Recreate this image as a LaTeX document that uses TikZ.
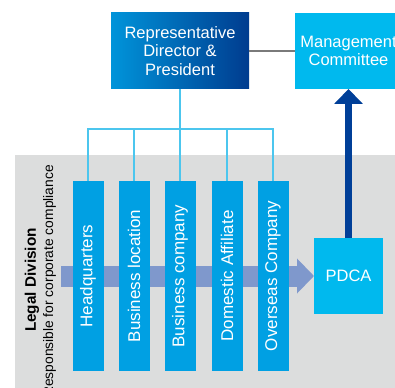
\documentclass[tikz,border=0pt]{standalone}
\usepackage{fontspec}
\setmainfont{Liberation Sans}
\usetikzlibrary{arrows.meta}

\definecolor{presleft}{HTML}{0094DA}
\definecolor{presright}{HTML}{003C8F}
\definecolor{skyblue}{HTML}{00B9EE}
\definecolor{unitblue}{HTML}{00A0E3}
\definecolor{tieblue}{HTML}{4CC6EE}
\definecolor{bggray}{HTML}{DCDDDD}
\definecolor{bandblue}{HTML}{7F98CC}
\definecolor{navy}{HTML}{003F98}
\definecolor{linkgray}{HTML}{7A7A7A}

\begin{document}
\begin{tikzpicture}[x=1pt, y=-1pt,
	box/.style={text=white, inner sep=0pt, outer sep=0pt, align=center, minimum height=76pt, font=\fontsize{16.5}{18.5}\selectfont},
	unit/.style={fill=unitblue, text=white, minimum width=31pt, minimum height=190pt, inner sep=0pt, outer sep=0pt, font=\fontsize{17}{20}\selectfont},
	tie/.style={draw=tieblue, line width=1.5pt}]
	\useasboundingbox (0,0) rectangle (395,387);
	\fill[bggray] (15,155) rectangle (400,390);
	
	\node[box, minimum width=138pt, left color=presleft, right color=presright] (pres) at (180,51) {Representative\\Director \&\\President};
	\node[box, minimum width=107pt, fill=skyblue] (mgmt) at (348.5,51) {Management\\Committee};
	\node[box, minimum width=69pt, fill=skyblue] (pdca) at (348.5,276) {PDCA};
	
	\draw[linkgray, line width=2.5pt] (pres.east) -- (mgmt.west);
	\draw[navy, line width=7pt, -{Triangle[width=28pt, length=15pt]}] (pdca.north) -- (mgmt.south);
	
	% band behind the units
	\coordinate (band) at (61,276);
	\draw[bandblue, line width=21pt, -{Triangle[width=34pt, length=17pt]}] (band) -- (pdca.west);
	
	\foreach \name/\x/\txt in {hq/88/Headquarters, loc/134/Business location, comp/180/Business company, dom/227/Domestic Affiliate, ovs/273/Overseas Company}
		\node[unit] (\name) at (\x,276) {\rotatebox{90}{\txt}};
	
	\coordinate (hub) at (180,129);
	\draw[tie] (pres.south) -- (hub);
	\foreach \name in {hq,loc,comp,dom,ovs}
		\draw[tie] (hub) -| (\name.north);
	
	\node[rotate=90, font=\bfseries\fontsize{15.3}{18}\selectfont] (legal) at (32,280) {Legal Division};
	\node[rotate=90, font=\fontsize{13.8}{16}\selectfont] (legalnote) at (49.5,281) {Responsible for corporate compliance};
\end{tikzpicture}
\end{document}
